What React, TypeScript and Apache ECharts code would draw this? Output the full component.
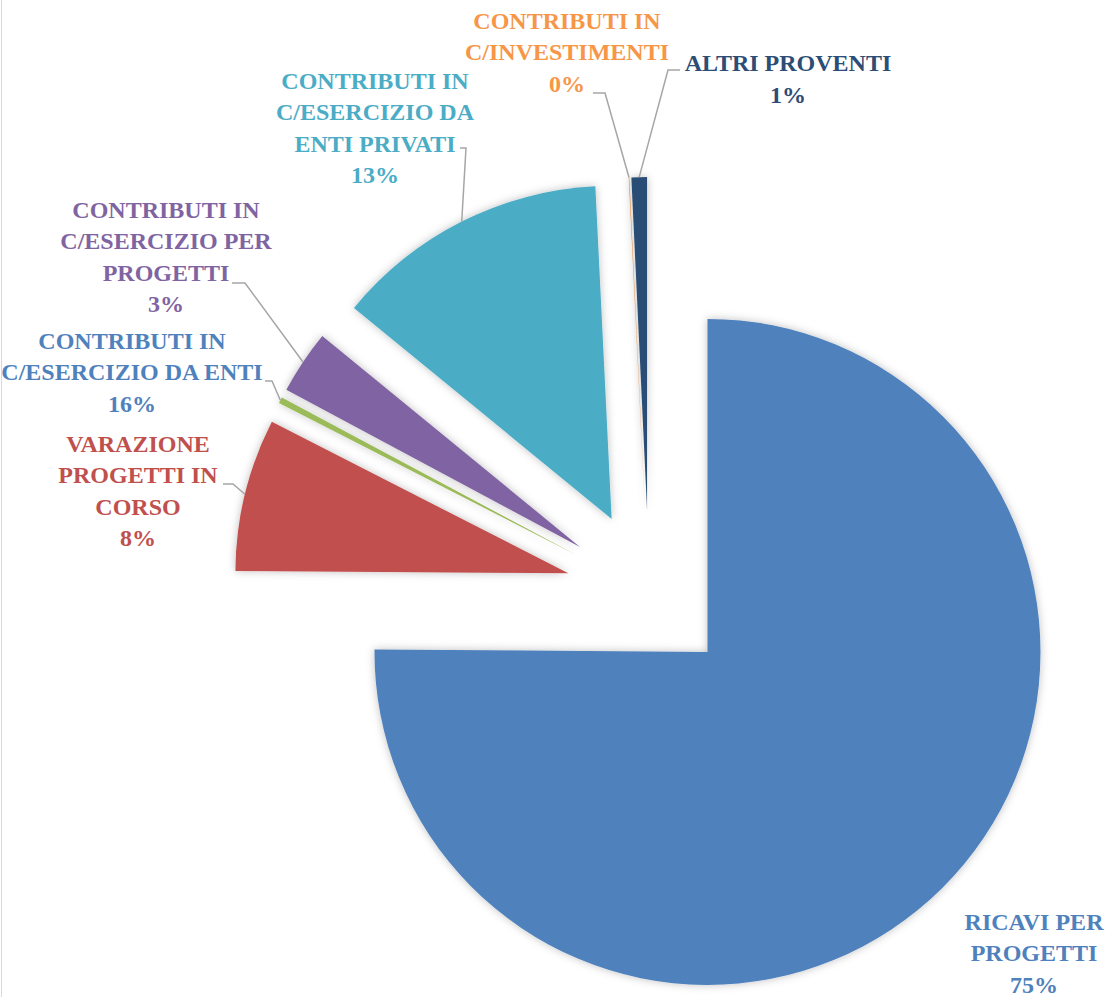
import React, { useEffect, useRef } from "react";
import * as echarts from "echarts";

const categories = [
  "RICAVI PER\nPROGETTI",
  "VARAZIONE\nPROGETTI IN\nCORSO",
  "CONTRIBUTI IN\nC/ESERCIZIO DA ENTI",
  "CONTRIBUTI IN\nC/ESERCIZIO PER\nPROGETTI",
  "CONTRIBUTI IN\nC/ESERCIZIO DA\nENTI PRIVATI",
  "CONTRIBUTI IN\nC/INVESTIMENTI",
  "ALTRI PROVENTI",
];
const values = [75.1, 7.4, 0.3, 3.1, 13.3, 0.03, 0.75];
const shownPercents = ["75%", "8%", "16%", "3%", "13%", "0%", "1%"];

const sliceColors = ["#4F81BD", "#C0504D", "#9BBB59", "#8064A2", "#4BACC6", "#F79646", "#2C4D75"];
const labelColors = ["#4F81BD", "#C0504D", "#4F81BD", "#8064A2", "#4BACC6", "#F79646", "#2C4D75"];

// layout (px): pie geometry and label placement
const PIE_CENTER: [number, number] = [649, 593];
const PIE_RADIUS = 333;
const EXPLODE = 83;
const labelCenters: [number, number][] = [
  [1034, 953],
  [138, 491],
  [132, 372],
  [166, 257],
  [375, 128],
  [567, 52],
  [788, 79],
];
// leader line elbow and end points (null = no leader line)
const leaderTails: ([number, number][] | null)[] = [
  null,
  [[233, 484], [223, 484]],
  [[272, 381], [265, 381]],
  [[245, 283], [232, 283]],
  [[466, 148], [460, 148]],
  [[605, 93], [593, 93]],
  [[668, 70], [680, 70]],
];

export default function App() {
  const ref = useRef<HTMLDivElement>(null);
  useEffect(() => {
    if (!ref.current) return;
    const chart = echarts.init(ref.current, undefined, { renderer: "svg" });
    const labelFont = {
      fontFamily: "Liberation Serif",
      fontWeight: "bold" as const,
      fontSize: 24,
      lineHeight: 31.5,
    };
    chart.setOption({
      animation: false,
      backgroundColor: "#ffffff",
      graphic: [
        {
          type: "line",
          shape: { x1: 1.5, y1: 0, x2: 1.5, y2: 997 },
          style: { stroke: "#D9D9D9", lineWidth: 1 },
        },
      ],
      series: [
        {
          type: "pie",
          center: PIE_CENTER,
          radius: PIE_RADIUS,
          startAngle: 90,
          clockwise: true,
          selectedMode: "multiple",
          selectedOffset: EXPLODE,
          avoidLabelOverlap: false,
          silent: true,
          itemStyle: {
            shadowBlur: 8,
            shadowColor: "rgba(0,0,0,0.25)",
          },
          label: { show: false },
          labelLine: { show: false },
          data: categories.map((name, i) => ({
            name,
            value: values[i],
            selected: true,
            itemStyle: { color: sliceColors[i] },
            select: { itemStyle: { color: sliceColors[i] } },
          })),
        },
        {
          // label layer: same data, invisible sectors, labels with leader lines
          type: "pie",
          center: PIE_CENTER,
          radius: PIE_RADIUS,
          startAngle: 90,
          clockwise: true,
          selectedMode: false,
          avoidLabelOverlap: false,
          silent: true,
          z: 3,
          itemStyle: { color: "rgba(0,0,0,0)" },
          label: {
            show: true,
            position: "outside",
            ...labelFont,
          },
          labelLine: {
            show: true,
            length: 20,
            length2: 10,
            lineStyle: { color: "#A6A6A6", width: 1.5 },
          },
          labelLayout: (params: any) => {
            const i = params.dataIndex;
            const c = labelCenters[i];
            const out: any = { x: c[0], y: c[1], align: "center", verticalAlign: "middle" };
            const tail = leaderTails[i];
            const pts = params.labelLinePoints;
            if (tail && pts && pts[0]) {
              const p0 = pts[0];
              const ux = p0[0] - PIE_CENTER[0];
              const uy = p0[1] - PIE_CENTER[1];
              const len = Math.sqrt(ux * ux + uy * uy) || 1;
              const start = [p0[0] + (ux / len) * EXPLODE, p0[1] + (uy / len) * EXPLODE];
              out.labelLinePoints = [start, tail[0], tail[1]];
            }
            return out;
          },
          data: categories.map((name, i) => ({
            name,
            value: values[i],
            label: {
              color: labelColors[i],
              formatter: () => `${name}\n${shownPercents[i]}`,
            },
            labelLine: i === 0 ? { show: false } : undefined,
          })),
        },
      ],
    });
    return () => chart.dispose();
  }, []);
  return (
    <div
      ref={ref}
      style={{ position: "absolute", left: 0, top: 0, width: 1109, height: 997 }}
    />
  );
}
